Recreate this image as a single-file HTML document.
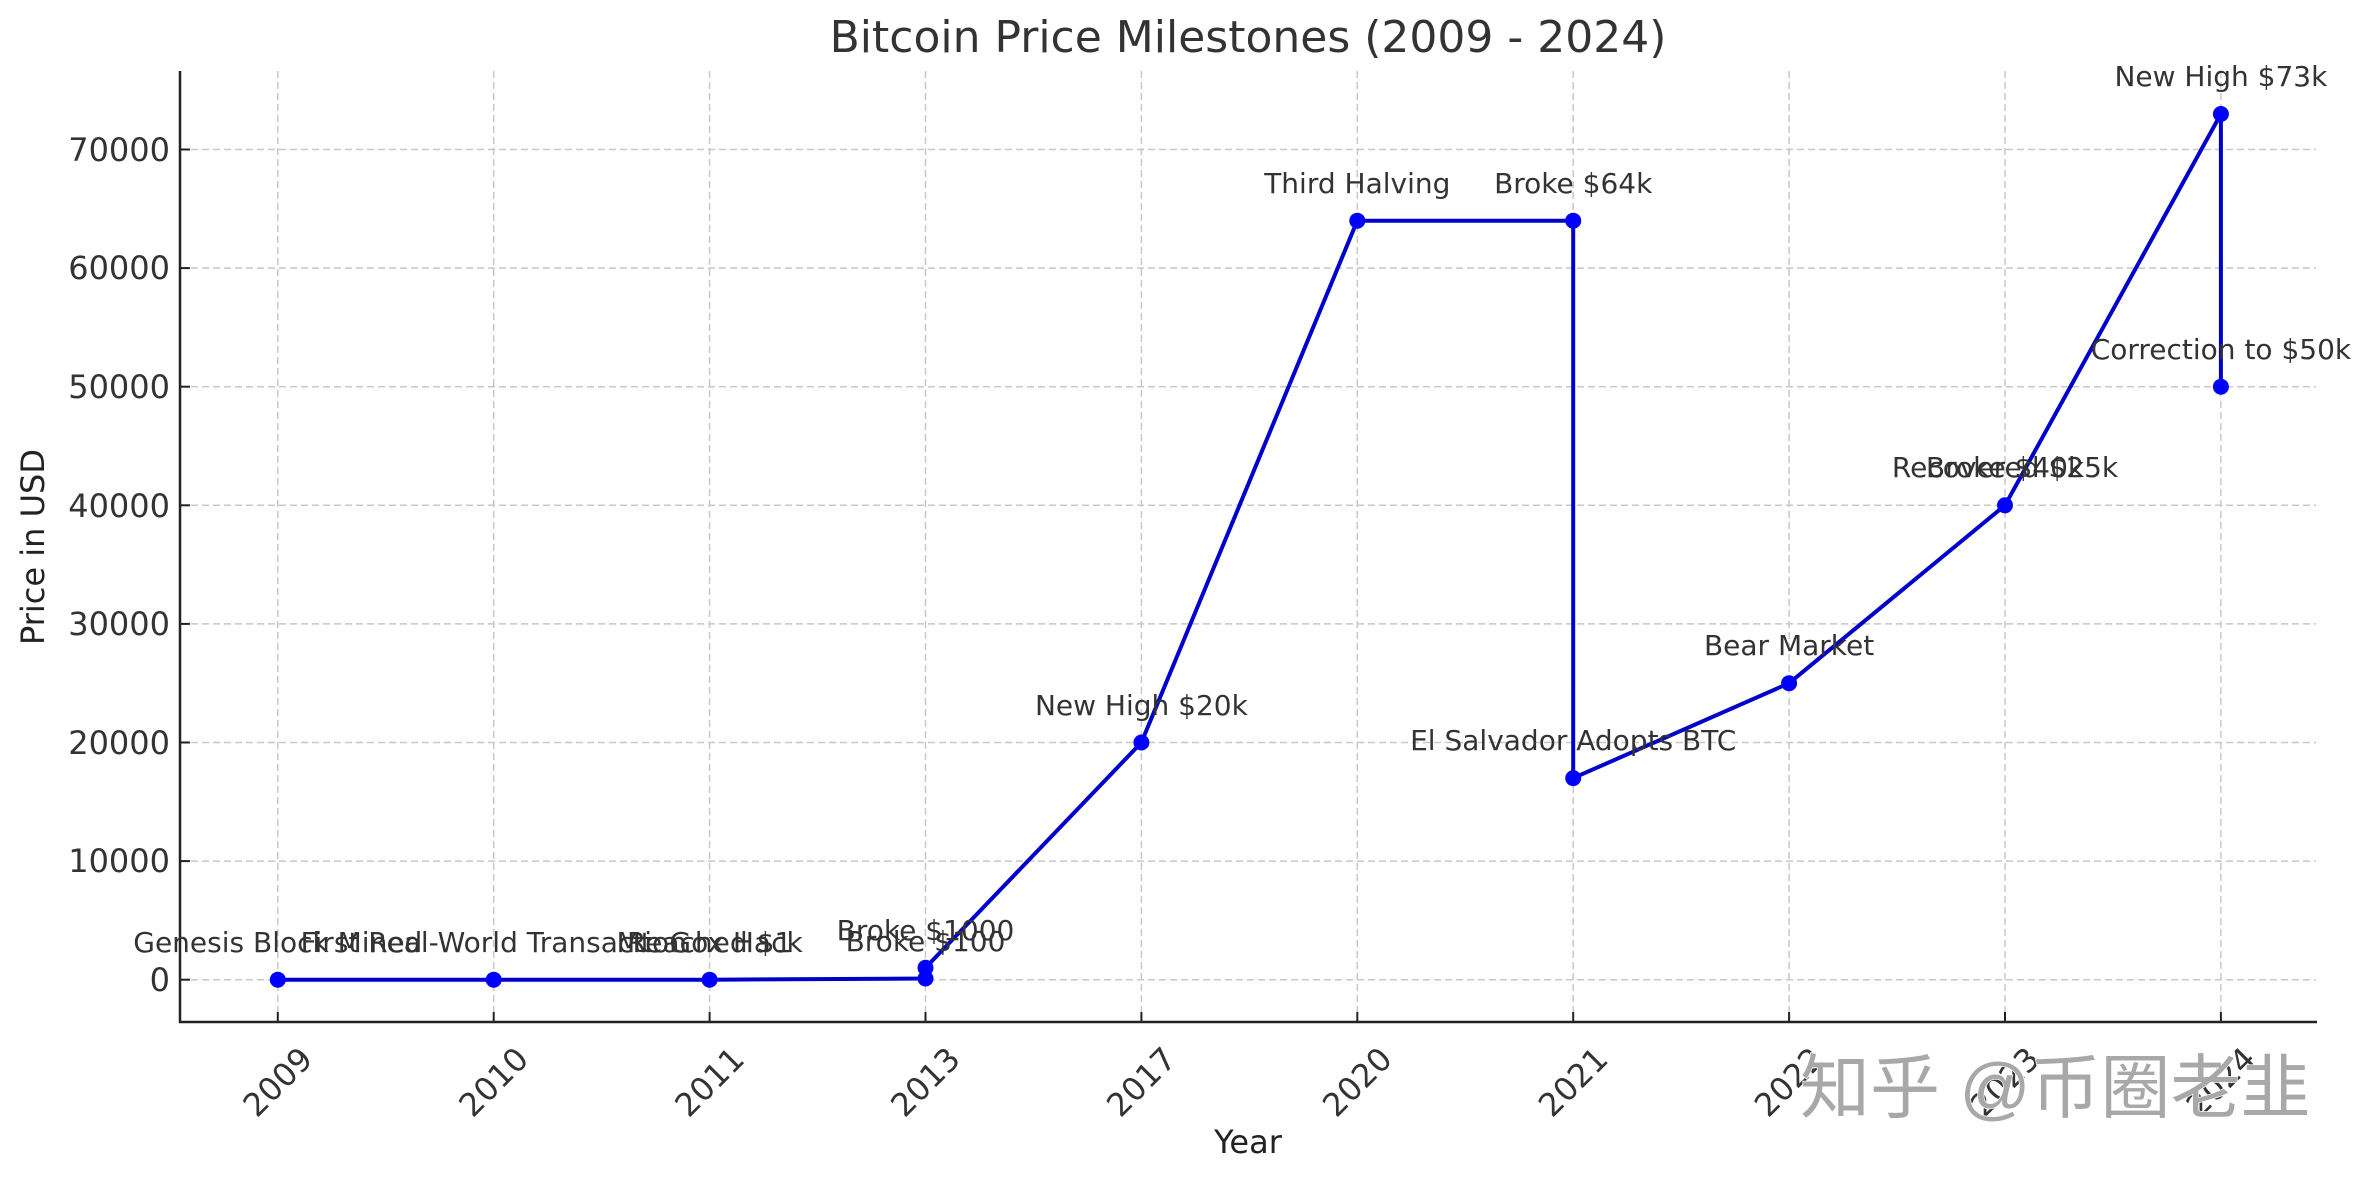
<!DOCTYPE html>
<html><head><meta charset="utf-8"><style>
html,body{margin:0;padding:0;background:#fff}
svg{display:block}
text{font-family:"DejaVu Sans","Liberation Sans",sans-serif;fill:#333}
</style></head><body>
<svg width="2367" height="1180" viewBox="0 0 2367 1180" xmlns="http://www.w3.org/2000/svg">
<rect width="2367" height="1180" fill="#fff"/>
<g stroke="#c8c8c8" stroke-width="1.5" stroke-dasharray="7,4" fill="none">
<line x1="180" x2="2316" y1="979.7" y2="979.7"/>
<line x1="180" x2="2316" y1="861.1" y2="861.1"/>
<line x1="180" x2="2316" y1="742.5" y2="742.5"/>
<line x1="180" x2="2316" y1="623.9" y2="623.9"/>
<line x1="180" x2="2316" y1="505.3" y2="505.3"/>
<line x1="180" x2="2316" y1="386.7" y2="386.7"/>
<line x1="180" x2="2316" y1="268.1" y2="268.1"/>
<line x1="180" x2="2316" y1="149.5" y2="149.5"/>
<line y1="71" y2="1022" x1="277.8" x2="277.8"/>
<line y1="71" y2="1022" x1="493.7" x2="493.7"/>
<line y1="71" y2="1022" x1="709.6" x2="709.6"/>
<line y1="71" y2="1022" x1="925.5" x2="925.5"/>
<line y1="71" y2="1022" x1="1141.4" x2="1141.4"/>
<line y1="71" y2="1022" x1="1357.3" x2="1357.3"/>
<line y1="71" y2="1022" x1="1573.2" x2="1573.2"/>
<line y1="71" y2="1022" x1="1789.1" x2="1789.1"/>
<line y1="71" y2="1022" x1="2005" x2="2005"/>
<line y1="71" y2="1022" x1="2220.9" x2="2220.9"/>
</g>
<g stroke="#222" stroke-width="2.5">
<line x1="180" y1="71" x2="180" y2="1023"/>
<line x1="179" y1="1022" x2="2317" y2="1022"/>
<g stroke-width="2">
<line x1="180" x2="190" y1="979.7" y2="979.7"/><line x1="180" x2="190" y1="861.1" y2="861.1"/><line x1="180" x2="190" y1="742.5" y2="742.5"/><line x1="180" x2="190" y1="623.9" y2="623.9"/><line x1="180" x2="190" y1="505.3" y2="505.3"/><line x1="180" x2="190" y1="386.7" y2="386.7"/><line x1="180" x2="190" y1="268.1" y2="268.1"/><line x1="180" x2="190" y1="149.5" y2="149.5"/>
<line y1="1022" y2="1012" x1="277.8" x2="277.8"/><line y1="1022" y2="1012" x1="493.7" x2="493.7"/><line y1="1022" y2="1012" x1="709.6" x2="709.6"/><line y1="1022" y2="1012" x1="925.5" x2="925.5"/><line y1="1022" y2="1012" x1="1141.4" x2="1141.4"/><line y1="1022" y2="1012" x1="1357.3" x2="1357.3"/><line y1="1022" y2="1012" x1="1573.2" x2="1573.2"/><line y1="1022" y2="1012" x1="1789.1" x2="1789.1"/><line y1="1022" y2="1012" x1="2005" x2="2005"/><line y1="1022" y2="1012" x1="2220.9" x2="2220.9"/>
</g></g>
<g font-size="32" text-anchor="end" style="fill:#222">
<text x="170" y="991">0</text><text x="170" y="872">10000</text><text x="170" y="754">20000</text><text x="170" y="635">30000</text><text x="170" y="517">40000</text><text x="170" y="398">50000</text><text x="170" y="279">60000</text><text x="170" y="161">70000</text>
</g>
<g font-size="32" text-anchor="middle" style="fill:#222">
<text transform="translate(277.8,1082) rotate(-45)" dy="11">2009</text>
<text transform="translate(493.7,1082) rotate(-45)" dy="11">2010</text>
<text transform="translate(709.6,1082) rotate(-45)" dy="11">2011</text>
<text transform="translate(925.5,1082) rotate(-45)" dy="11">2013</text>
<text transform="translate(1141.4,1082) rotate(-45)" dy="11">2017</text>
<text transform="translate(1357.3,1082) rotate(-45)" dy="11">2020</text>
<text transform="translate(1573.2,1082) rotate(-45)" dy="11">2021</text>
<text transform="translate(1789.1,1082) rotate(-45)" dy="11">2022</text>
<text transform="translate(2005,1082) rotate(-45)" dy="11">2023</text>
<text transform="translate(2220.9,1082) rotate(-45)" dy="11">2024</text>
</g>
<text x="1248" y="1153" font-size="32" text-anchor="middle" style="fill:#222">Year</text>
<text transform="translate(44,547) rotate(-90)" font-size="32" text-anchor="middle" style="fill:#222">Price in USD</text>
<text x="1248" y="52" font-size="44" text-anchor="middle">Bitcoin Price Milestones (2009 - 2024)</text>
<polyline fill="none" stroke="#0000cc" stroke-width="4" stroke-linejoin="round" points="277.8,979.7 493.7,979.7 709.6,979.7 925.5,978.5 925.5,967.8 1141.4,742.5 1357.3,220.7 1573.2,220.7 1573.2,778.1 1789.1,683.2 2005,505.3 2220.9,114 2220.9,386.7"/>
<g fill="#0000ff">
<circle cx="277.8" cy="979.7" r="8"/><circle cx="493.7" cy="979.7" r="8"/><circle cx="709.6" cy="979.7" r="8"/><circle cx="925.5" cy="978.5" r="8"/><circle cx="925.5" cy="967.8" r="8"/><circle cx="1141.4" cy="742.5" r="8"/><circle cx="1357.3" cy="220.7" r="8"/><circle cx="1573.2" cy="220.7" r="8"/><circle cx="1573.2" cy="778.1" r="8"/><circle cx="1789.1" cy="683.2" r="8"/><circle cx="2005" cy="505.3" r="8"/><circle cx="2220.9" cy="114" r="8"/><circle cx="2220.9" cy="386.7" r="8"/>
</g>
<g font-size="28" text-anchor="middle">
<text x="277.8" y="952">Genesis Block Mined</text>
<text x="493.7" y="952">First Real-World Transaction</text>
<text x="709.6" y="952">Reached $1</text>
<text x="709.6" y="952">Mt. Gox Hack</text>
<text x="925.5" y="951">Broke $100</text>
<text x="925.5" y="940">Broke $1000</text>
<text x="1141.4" y="715">New High $20k</text>
<text x="1357.3" y="193">Third Halving</text>
<text x="1573.2" y="193">Broke $64k</text>
<text x="1573.2" y="750">El Salvador Adopts BTC</text>
<text x="1789.1" y="655">Bear Market</text>
<text x="2005" y="477">Recovered $25k</text>
<text x="2005" y="477">Broke $40k</text>
<text x="2220.9" y="86">New High $73k</text>
<text x="2220.9" y="359">Correction to $50k</text>
</g>
<text x="1800" y="1112" font-size="70" style="fill:#a8a8a8;font-family:'Liberation Sans','Noto Sans CJK SC',sans-serif;stroke:#fff;stroke-width:1.5;paint-order:stroke">知乎 @币圈老韭</text>
</svg>
</body></html>
